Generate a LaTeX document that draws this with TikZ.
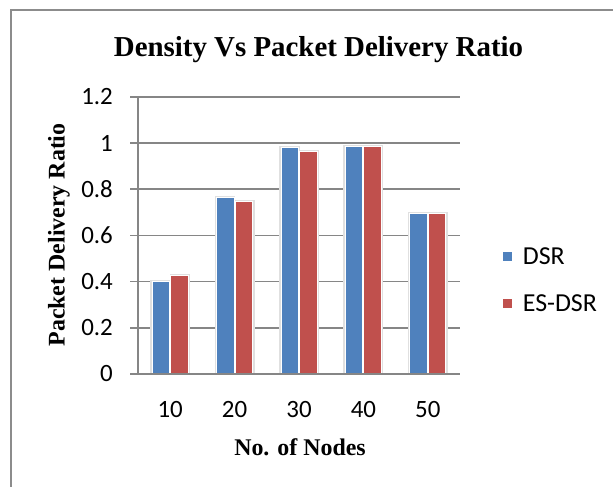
\documentclass[tikz,border=0pt]{standalone}
\usepackage{fontspec}
\setmainfont{Liberation Serif}
\newfontfamily\chartfont{Carlito}
\usetikzlibrary{positioning}
\definecolor{dsrblue}{HTML}{4F81BD}
\definecolor{esdsrred}{HTML}{C0504D}
\definecolor{gridgray}{HTML}{868686}
\definecolor{framegray}{HTML}{8C8C8C}

\begin{document}
\begin{tikzpicture}[
    x=1bp, y=-1bp,
    gridline/.style={draw=gridgray, line width=1.6bp},
    ticklabel/.style={font=\chartfont\fontsize{25}{29}\selectfont, inner sep=0pt},
    legendlabel/.style={font=\chartfont\fontsize{26}{30}\selectfont, inner sep=0pt},
    axistitle/.style={font=\bfseries\fontsize{24}{28}\selectfont, inner sep=0pt},
    bar/.style={draw=white, line width=1bp},
    barshadow/.style={fill=black!12},
    legendkey/.style={rectangle, minimum size=9bp, inner sep=0pt}
]
    \useasboundingbox (0,0) rectangle (613,487);
    \clip (0,0) rectangle (613,487);

    % Frame
    \draw[framegray, line width=1.5bp] (11,10) rectangle (640,510);

    % Title
    \node[font=\bfseries\fontsize{29}{34}\selectfont, inner sep=0pt, anchor=base] (title) at (318.5,57) {Density Vs Packet Delivery Ratio};

    % Grid and y ticks
    \foreach \v/\t [count=\i] in {0/0, 0.2/0.2, 0.4/0.4, 0.6/0.6, 0.8/0.8, 1/1, 1.2/1.2} {
        \pgfmathsetmacro{\yy}{374-231*\v}
        \draw[gridline] (130,\yy) -- (460,\yy);
        \node[ticklabel, anchor=east] (ylab-\i) at (113,\yy) {\t};
    }

    % Bars
    \foreach \a/\b/\x [count=\i from 0] in {0.40/0.425/10, 0.765/0.745/20, 0.98/0.965/30, 0.985/0.985/40, 0.695/0.695/50} {
        \pgfmathsetmacro{\c}{170.2+64.4*\i}
        \pgfmathsetmacro{\ya}{374-231*\a}
        \pgfmathsetmacro{\yb}{374-231*\b}
        \fill[barshadow] (\c-20,\ya-1.5) rectangle (\c+0.5,374);
        \fill[barshadow] (\c-0.5,\yb-1.5) rectangle (\c+20,374);
        \filldraw[bar, fill=dsrblue] (\c-18,\ya) rectangle (\c-0.5,374);
        \filldraw[bar, fill=esdsrred] (\c+0.5,\yb) rectangle (\c+18,374);
        \node[ticklabel, anchor=base] (xlab-\x) at (\c,417) {\x};
    }

    % Axes
    \draw[gridline] (138,96.8) -- (138,374);
    \draw[gridline] (130,374) -- (460,374);

    % Axis titles
    \node[axistitle, rotate=90] (ytitle) at (59,235) {Packet Delivery Ratio};
    \node[axistitle, anchor=base] (xtitle) at (300,455) {No. of Nodes};

    % Legend
    \node[legendkey, fill=dsrblue] (keydsr) at (507,256) {};
    \node[legendlabel, right=11bp of keydsr] (labdsr) {DSR};
    \node[legendkey, fill=esdsrred] (keyesdsr) at (507,303.5) {};
    \node[legendlabel, right=11bp of keyesdsr] (labesdsr) {ES-DSR};
\end{tikzpicture}
\end{document}
